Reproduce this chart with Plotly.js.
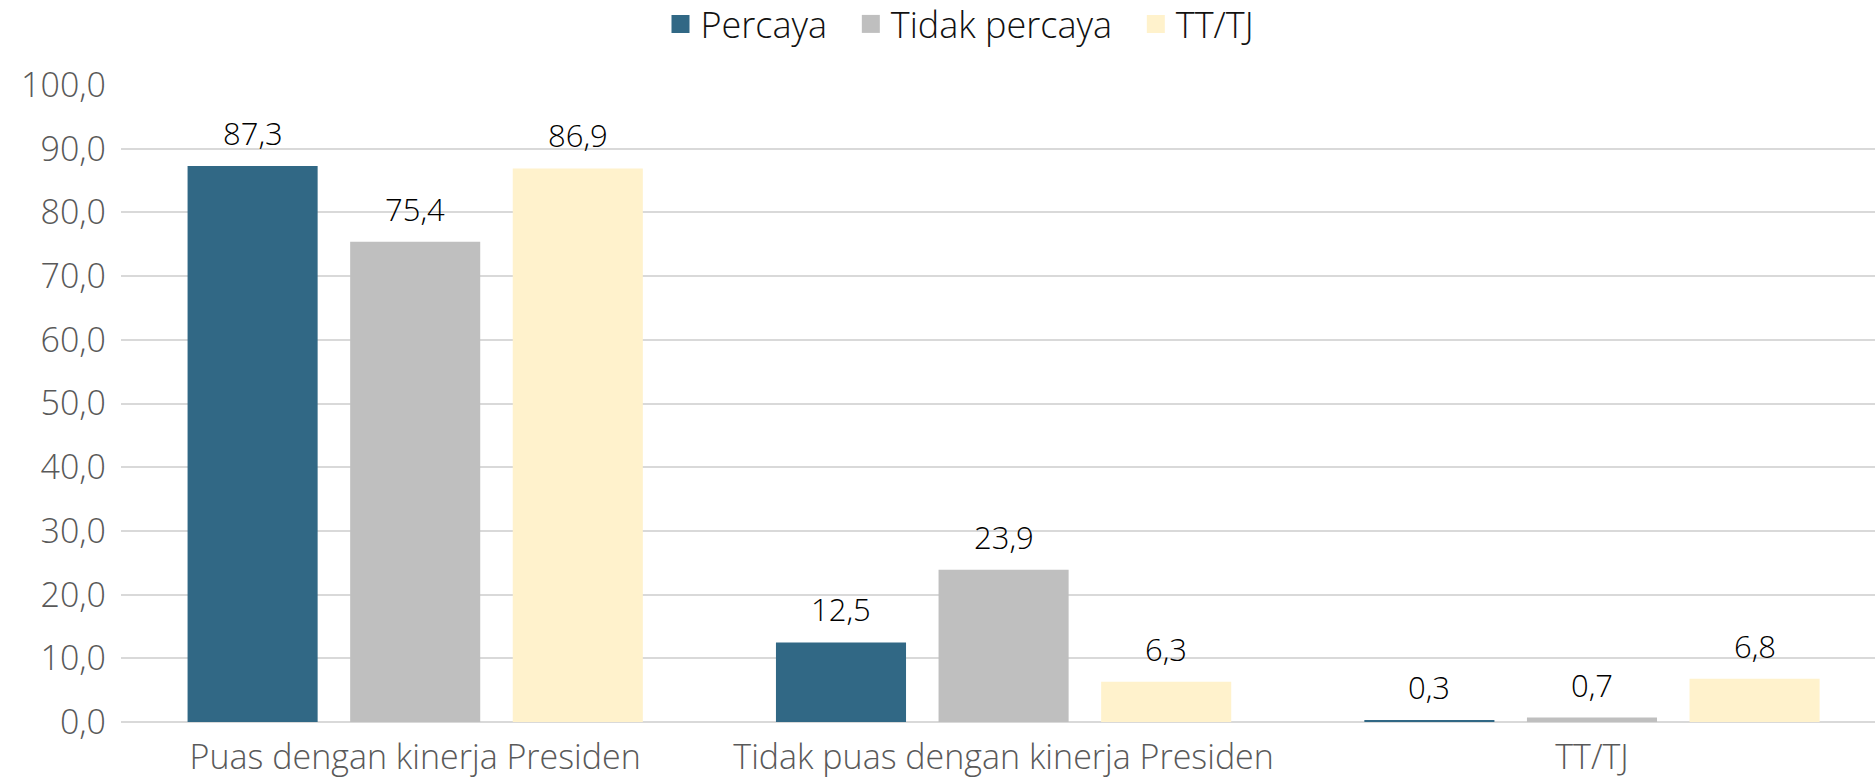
<!DOCTYPE html>
<html>
<head>
<meta charset="utf-8">
<script src="https://cdn.plot.ly/plotly-3.0.1.min.js"></script>
<style>html,body{margin:0;padding:0;background:#fff;}#chart{width:1875px;height:779px;}</style>
</head>
<body>
<div id="chart"></div>
<script>
const categories = ["Puas dengan kinerja Presiden", "Tidak puas dengan kinerja Presiden", "TT/TJ"];
const seriesNames = ["Percaya", "Tidak percaya", "TT/TJ"];
const percaya = [87.3, 12.5, 0.3];
const tidakPercaya = [75.4, 23.9, 0.7];
const ttTj = [86.9, 6.3, 6.8];
const yTicks = [0, 10, 20, 30, 40, 50, 60, 70, 80, 90, 100];

const colors = ["#316885", "#bfbfbf", "#fff2cc"];
const FONT = "'Open Sans', Lato, sans-serif";
const W = 300;
const bargap = 0.171, bargroupgap = 0.2;
const slot = (1 - bargap) / 3;
const PAD = "\u00a0\u00a0";

const series = [percaya, tidakPercaya, ttTj];
const traces = series.map((vals, i) => ({
  type: "bar",
  name: seriesNames[i] + (i < series.length - 1 ? PAD : ""),
  x: categories.map((c, k) => k),
  y: vals,
  marker: {color: colors[i], line: {width: 0}},
  hoverinfo: "none"
}));

const annotations = [];
series.forEach((vals, i) => {
  vals.forEach((v, k) => {
    annotations.push({
      x: k + (i - 1) * slot, y: v, xref: "x", yref: "y",
      text: v.toFixed(1).replace(".", ","),
      showarrow: false, yanchor: "bottom", yshift: 10,
      font: {family: FONT, size: 31, color: "#000000", weight: W}
    });
  });
});

const layout = {
  width: 1875, height: 779,
  margin: {l: 121, r: 0, t: 85, b: 57},
  paper_bgcolor: "#ffffff", plot_bgcolor: "#ffffff",
  barmode: "group", bargap: bargap, bargroupgap: bargroupgap,
  separators: ",.",
  showlegend: true,
  legend: {
    orientation: "h", x: 0.512, xanchor: "center", xref: "container",
    y: 1, yref: "container", yanchor: "top",
    font: {family: FONT, size: 36, color: "#111111", weight: W},
    itemwidth: 30, tracegroupgap: 0,
    traceorder: "normal"
  },
  xaxis: {
    range: [-0.5, 2.481],
    tickmode: "array", tickvals: [0, 1, 2], ticktext: categories,
    tickfont: {family: FONT, size: 34, color: "#595959", weight: W},
    showgrid: false, zeroline: false, showline: false,
    ticks: "", ticklabelstandoff: 12
  },
  yaxis: {
    range: [0, 100],
    tickmode: "array", tickvals: yTicks,
    ticktext: yTicks.map(v => v.toFixed(1).replace(".", ",")),
    tickfont: {family: FONT, size: 34, color: "#595959", weight: W},
    showgrid: true, gridcolor: "#d9d9d9", gridwidth: 2,
    zeroline: true, zerolinecolor: "#d9d9d9", zerolinewidth: 2,
    showline: false, ticks: "", ticklabelstandoff: 14
  },
  annotations: annotations
};

Plotly.newPlot("chart", traces, layout, {staticPlot: true, displayModeBar: false}).then(gd => {
  // enlarge legend swatches to match the reference's square markers
  gd.querySelectorAll(".legend .legendpoints path").forEach(p => {
    p.setAttribute("transform", "translate(20,0) scale(1.5)");
  });
  // nudge the legend up slightly
  const lg = gd.querySelector("g.legend");
  if (lg) {
    const t = lg.getAttribute("transform") || "";
    const m = t.match(/translate\(\s*([-\d.]+)[ ,]+([-\d.]+)\s*\)/);
    if (m) lg.setAttribute("transform", "translate(" + m[1] + "," + (parseFloat(m[2]) - 6) + ")");
  }
});
</script>
</body>
</html>
